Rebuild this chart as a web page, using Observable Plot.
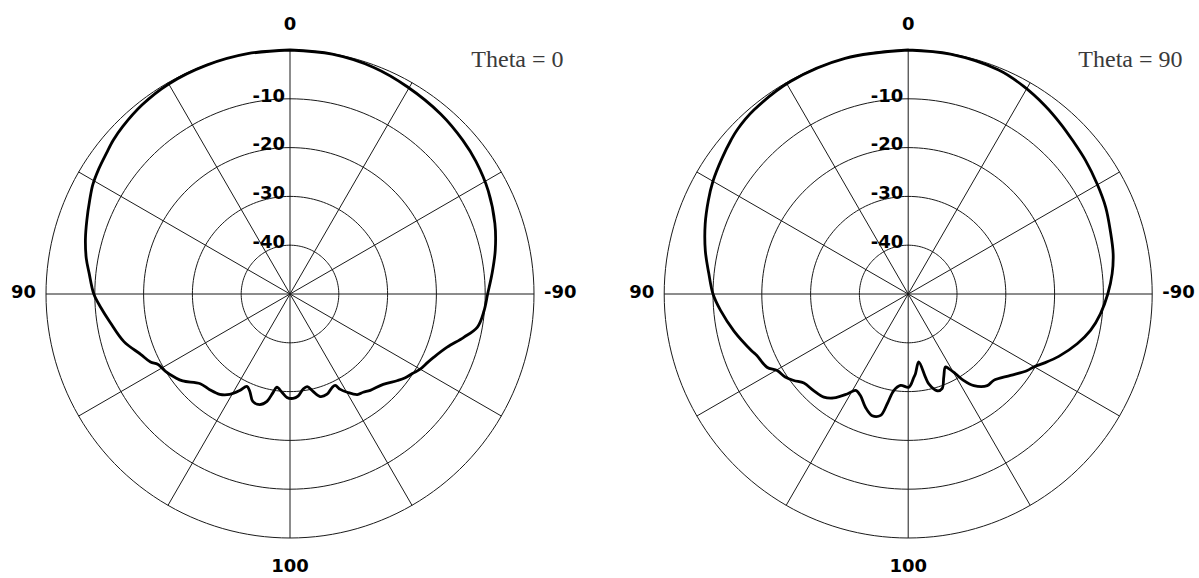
<!DOCTYPE html>
<html><head><meta charset="utf-8">
<script src="https://cdn.jsdelivr.net/npm/d3@7"></script>
<script src="https://cdn.jsdelivr.net/npm/@observablehq/plot@0.6"></script>
<style>
html,body{margin:0;padding:0;background:#fff;}
#wrap{display:flex;width:1199px;height:578px;overflow:hidden;}
#wrap svg{display:block;}
</style></head><body><div id="wrap"></div>
<script>
// ---- data ----
const ringLevels = [0, -10, -20, -30, -40];
const ringLabelValues = [-10, -20, -30, -40];
const ringLabels = ["-10", "-20", "-30", "-40"];
const spokeAngles = [0, 30, 60, 90, 120, 150];
const angleTicks = [0, 90, 270, 180];
const angleTickLabels = ["0", "90", "-90", "100"];
const titles = ["Theta = 0", "Theta = 90"];

// angles: degrees, counter-clockwise from top (90 = left, 270 = right / "-90")
const angles0 = [0, 10, 20, 30, 38, 45, 49, 52.5, 57, 61, 65, 70, 75, 80, 84, 90, 94, 99, 106, 112, 116, 118, 122, 126, 129, 135, 140, 145, 149, 152.5, 155, 157.6, 160.9, 164.7, 167.9, 170.2, 172, 175.3, 178.3, 181.7, 184.5, 187.8, 190.5, 193.3, 196.4, 200.3, 204.3, 206.3, 207.8, 210.2, 213.8, 216.7, 219.8, 225.9, 231.2, 234, 237, 240, 243.6, 246.3, 251.3, 256, 260, 265, 270, 275.7, 282, 289, 297.5, 305.5, 311.7, 320, 330.5, 339.7, 350];
const gain0 = [0, 0, -0.1, -0.3, -0.8, -1.5, -2.0, -2.6, -3.2, -3.8, -4.7, -5.7, -6.6, -7.6, -8.6, -9.8, -11.1, -12.7, -14.6, -17.0, -18.2, -19.3, -20.0, -20.9, -21.7, -24.0, -24.4, -24.9, -26.0, -27.7, -29.1, -28.4, -26.7, -26.5, -27.5, -29.5, -30.7, -29.8, -28.8, -28.6, -29.0, -30.3, -30.7, -29.5, -28.1, -28.1, -29.0, -29.1, -27.9, -26.7, -25.2, -24.9, -24.3, -23.4, -21.7, -20.8, -20.1, -19.2, -18.5, -17.8, -16.0, -13.3, -11.0, -10.1, -9.5, -8.4, -7.0, -5.6, -4.2, -3.2, -2.6, -1.9, -1.2, -0.5, -0.1];

const angles90 = [0, 15, 29, 40, 46, 49, 54, 60, 65, 71, 78, 84, 90, 95, 102, 110, 112, 117.4, 120.3, 124, 127.1, 130.5, 135.6, 140.7, 144.4, 148.6, 151.4, 154.8, 159.3, 163.5, 167.2, 169.2, 171.5, 175.2, 180.4, 183.9, 185.2, 188.8, 191.7, 192.9, 196.7, 199.7, 203.2, 207, 208.5, 210.7, 212.7, 215.6, 220.8, 224.7, 231.5, 237.3, 240, 243, 247.5, 253.6, 258.7, 264.1, 270, 275.7, 281.1, 287.4, 293.7, 300.2, 307, 313, 318, 324, 331, 338, 350];
const gain90 = [0, 0, -0.2, -0.8, -1.4, -1.9, -2.8, -3.8, -4.8, -6.0, -7.5, -8.9, -10.0, -11.4, -13.5, -15.9, -16.5, -17.4, -18.9, -19.6, -20.6, -21.9, -22.3, -22.7, -23.8, -26.0, -27.5, -27.0, -25.2, -24.0, -24.5, -27.1, -30.0, -31.2, -30.9, -32.9, -33.6, -35.9, -32.6, -31.1, -29.3, -29.4, -31.5, -33.2, -32.6, -31.0, -28.9, -26.9, -25.2, -25.1, -23.2, -21.0, -20.2, -18.8, -16.6, -13.9, -11.9, -10.4, -9.1, -8.0, -7.2, -6.6, -5.8, -5.2, -4.5, -3.9, -3.2, -2.3, -1.3, -0.5, -0.1];

// ---- drawing ----
const FLOOR = -50; // dB value at the centre
function polar(theta, db) {
  const r = db - FLOOR, t = theta * Math.PI / 180;
  return {x: -r * Math.sin(t), y: r * Math.cos(t)};
}

const FONT = "DejaVu Sans";
function panel(width, cx, angles, gains, title, titleDx) {
  const height = 578, cy = 293.5, k = 244 / 50;
  const rings = ringLevels.flatMap(level => d3.range(0, 361, 2).map(a => ({level, ...polar(a, level)})));
  const spokes = spokeAngles.map(a => {
    const p = polar(a, 0), q = polar(a + 180, 0);
    return {x1: p.x, y1: p.y, x2: q.x, y2: q.y};
  });
  const curve = angles.map((a, i) => polar(a, gains[i]));
  curve.push(curve[0]);
  const ringLab = ringLabelValues.map((v, i) => ({...polar(0, v), t: ringLabels[i]}));
  const ticks = angleTicks.map((a, i) => ({a, ...polar(a, 0), t: angleTickLabels[i]}));
  const tickText = (a, opts) => Plot.text(ticks.filter(d => d.a === a), {x: "x", y: "y", text: "t", fontFamily: FONT, fontWeight: "bold", fontSize: 18, fill: "#000", ...opts});
  return Plot.plot({
    width, height, margin: 0,
    style: {background: "#fff", overflow: "visible"},
    x: {domain: [-cx / k, (width - cx) / k], range: [0, width], axis: null},
    y: {domain: [-(height - cy) / k, cy / k], range: [height, 0], axis: null},
    marks: [
      Plot.line(rings, {x: "x", y: "y", z: "level", stroke: "#1a1a1a", strokeWidth: 1}),
      Plot.link(spokes, {x1: "x1", y1: "y1", x2: "x2", y2: "y2", stroke: "#1a1a1a", strokeWidth: 1}),
      Plot.line(curve, {x: "x", y: "y", stroke: "#000", strokeWidth: 2.8, curve: "catmull-rom", strokeLinejoin: "round"}),
      Plot.text(ringLab, {x: "x", y: "y", text: "t", textAnchor: "end", dx: -5, dy: -3, fontFamily: FONT, fontWeight: "bold", fontSize: 18, fill: "#000"}),
      tickText(0, {dy: -26}),
      tickText(90, {textAnchor: "end", dx: -10, dy: -2}),
      tickText(270, {textAnchor: "start", dx: 10, dy: -2}),
      tickText(180, {dy: 28}),
      Plot.text([title], {text: d => d, frameAnchor: "top-right", textAnchor: "end", lineAnchor: "middle", dx: titleDx, dy: 59, fontFamily: "Liberation Serif", fontSize: 24, fill: "#3a3a3a"})
    ]
  });
}

const wrap = document.getElementById("wrap");
wrap.appendChild(panel(600, 289.5, angles0, gain0, titles[0], -37));
wrap.appendChild(panel(599, 307.7, angles90, gain90, titles[1], -17));
</script></body></html>
